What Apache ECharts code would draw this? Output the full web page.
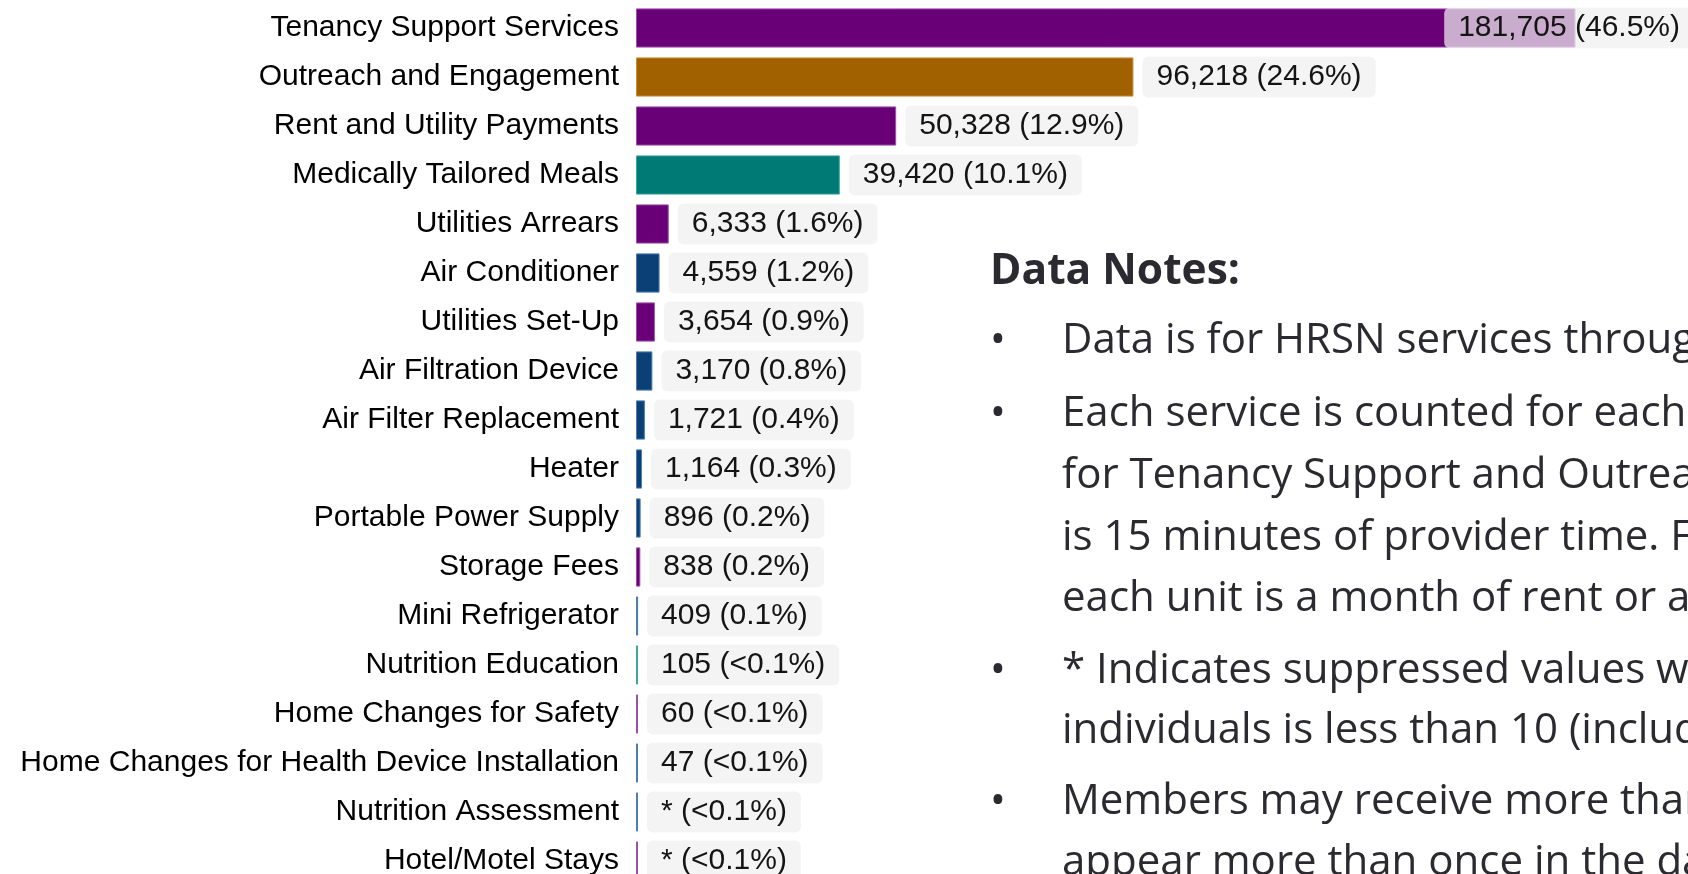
<!DOCTYPE html>
<html>
<head>
<meta charset="utf-8">
<script src="https://cdn.jsdelivr.net/npm/echarts@6/dist/echarts.min.js"></script>
<style>
html,body{margin:0;padding:0;background:#fff;overflow:hidden;}
#chart{width:1688px;height:874px;}
</style>
</head>
<body>
<div id="chart"></div>
<script>
// ---- data ----
const categories = [
  'Tenancy Support Services','Outreach and Engagement','Rent and Utility Payments',
  'Medically Tailored Meals','Utilities Arrears','Air Conditioner','Utilities Set-Up',
  'Air Filtration Device','Air Filter Replacement','Heater','Portable Power Supply',
  'Storage Fees','Mini Refrigerator','Nutrition Education','Home Changes for Safety',
  'Home Changes for Health Device Installation','Nutrition Assessment','Hotel/Motel Stays'
];
// suppressed values (<10) are shown as "*"; a small estimate is used for the bar
const counts = [181705, 96218, 50328, 39420, 6333, 4559, 3654, 3170, 1721, 1164, 896, 838, 409, 105, 60, 47, 5, 5];
const suppressed = [false,false,false,false,false,false,false,false,false,false,false,false,false,false,false,false,true,true];
const shares = ['46.5%','24.6%','12.9%','10.1%','1.6%','1.2%','0.9%','0.8%','0.4%','0.3%','0.2%','0.2%','0.1%','<0.1%','<0.1%','<0.1%','<0.1%','<0.1%'];
const groups = ['housing','outreach','housing','nutrition','housing','environment','housing',
  'environment','environment','environment','environment','housing','environment','nutrition',
  'housing','environment','environment','housing'];

const notesTitle = 'Data Notes:';
const notesLines = [
  {bullet: true,  text: 'Data is for HRSN services through'},
  {bullet: true,  text: 'Each service is counted for each unit'},
  {bullet: false, text: 'for Tenancy Support and Outreach'},
  {bullet: false, text: 'is 15 minutes of provider time. For'},
  {bullet: false, text: 'each unit is a month of rent or a'},
  {bullet: true,  text: '* Indicates suppressed values where'},
  {bullet: false, text: 'individuals is less than 10 (including'},
  {bullet: true,  text: 'Members may receive more than'},
  {bullet: false, text: 'appear more than once in the data'}
];

// ---- styles ----
const palette = {
  housing:     {fill: '#690077', border: '#9E4FAB'},
  outreach:    {fill: '#A16100', border: '#C98F3A'},
  nutrition:   {fill: '#007A74', border: '#3DA79F'},
  environment: {fill: '#0B4077', border: '#4C7EB1'}
};
const noteBaselines = [353.5, 426.5, 488.5, 550, 611.5, 683, 743.5, 814.5, 875.5];
const titleSize = 42.5, bodySize = 42;

const chart = echarts.init(document.getElementById('chart'), null, {renderer: 'canvas'});

const barData = counts.map((v, i) => ({
  value: v,
  itemStyle: {color: palette[groups[i]].fill, borderColor: palette[groups[i]].border}
}));

const graphics = [];
graphics.push({
  type: 'text', x: 990, y: 284.5 - 0.285 * titleSize,
  style: {text: notesTitle, font: 'bold ' + titleSize + 'px "Open Sans"', fill: '#2B2A30', verticalAlign: 'middle'}
});
notesLines.forEach((ln, i) => {
  const y = noteBaselines[i] - 0.285 * bodySize;
  if (ln.bullet) {
    graphics.push({type: 'text', x: 990, y: y,
      style: {text: '•', font: bodySize + 'px "Open Sans"', fill: '#2B2A30', verticalAlign: 'middle'}});
  }
  graphics.push({type: 'text', x: 1062, y: y,
    style: {text: ln.text, font: bodySize + 'px "Open Sans"', fill: '#2B2A30', verticalAlign: 'middle'}});
});

chart.setOption({
  animation: false,
  backgroundColor: '#ffffff',
  grid: {left: 636, top: 3.5, width: 1034, height: 882, containLabel: false, outerBoundsMode: 'none'},
  xAxis: {type: 'value', min: 0, max: 200000, show: false},
  yAxis: {
    type: 'category', inverse: true, data: categories,
    axisLine: {show: false}, axisTick: {show: false}, splitLine: {show: false},
    axisLabel: {fontSize: 30, color: '#000000', fontFamily: '"Liberation Sans", Arial', margin: 17, padding: [4, 0, 0, 0]}
  },
  series: [{
    type: 'bar', data: barData, barCategoryGap: '20%', barMinHeight: 2,
    itemStyle: {borderWidth: 1},
    label: {
      show: true, position: 'right', distance: 9,
      formatter: p => (suppressed[p.dataIndex] ? '*' : counts[p.dataIndex].toLocaleString('en-US')) + ' (' + shares[p.dataIndex] + ')',
      fontSize: 30, lineHeight: 31, color: '#141414', fontFamily: '"Liberation Sans", Arial',
      backgroundColor: 'rgba(240,240,240,0.72)', borderRadius: 6, padding: [6, 14, 4, 14]
    },
    labelLayout: function (params) {
      const r = params.labelRect;
      const limit = chart.getWidth() + 6;
      if (r.x + r.width > limit) return {dx: limit - (r.x + r.width)};
      return {};
    }
  }],
  graphic: graphics
});
</script>
</body>
</html>
